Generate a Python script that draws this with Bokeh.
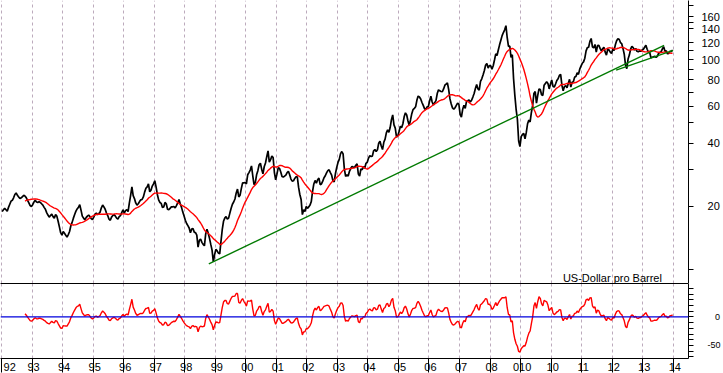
import numpy as np
import pandas as pd
from bokeh.plotting import figure
from bokeh.layouts import column
from bokeh.models import Range1d, FixedTicker, LinearAxis, Grid, Span, Label
from bokeh.embed import file_html
from bokeh.resources import INLINE

# ---------------- data (semi-monthly prices, USD per barrel) ----------------
p1992 = [18.9, 19.3, 19.6, 19.3, 19.0, 19.8, 20.5, 21.2, 21.4, 22.0, 22.8, 23.2, 22.6, 22.2, 21.8, 22.0, 22.3, 22.6, 22.4, 22.0, 21.4, 20.8, 20.2, 20.0]
p1993 = [20.4, 21.0, 21.4, 21.0, 20.9, 21.1, 20.9, 20.6, 20.3, 19.8, 19.4, 18.7, 18.2, 17.8, 18.1, 18.4, 17.9, 17.6, 18.3, 18.0, 17.0, 16.0, 15.0, 14.6]
p1994 = [15.2, 14.9, 14.6, 14.3, 14.7, 15.2, 16.2, 16.8, 17.6, 18.3, 19.0, 19.5, 19.8, 20.4, 19.2, 18.0, 17.6, 17.3, 17.7, 18.0, 18.2, 17.9, 17.5, 17.3]
p1995 = [17.8, 18.4, 18.6, 18.3, 18.5, 18.8, 19.7, 20.3, 19.9, 19.4, 18.6, 18.1, 17.4, 17.2, 17.8, 18.1, 18.3, 18.0, 17.6, 17.4, 17.9, 18.1, 18.7, 19.3]
p1996 = [18.6, 19.1, 19.3, 18.9, 20.8, 22.6, 24.8, 22.5, 21.8, 20.8, 20.3, 20.6, 21.1, 21.5, 21.6, 22.2, 23.4, 24.4, 24.8, 25.6, 23.5, 23.9, 25.0, 25.6]
p1997 = [26.5, 24.8, 22.8, 21.5, 20.9, 20.7, 19.8, 19.9, 20.9, 20.6, 19.4, 19.3, 19.6, 19.9, 19.9, 20.0, 19.7, 20.2, 20.8, 21.6, 20.6, 19.8, 18.8, 18.0]
p1998 = [17.2, 16.6, 16.2, 15.8, 15.0, 15.6, 15.7, 15.1, 15.0, 14.6, 12.8, 13.8, 14.0, 13.5, 13.2, 13.0, 14.8, 15.6, 14.9, 14.1, 13.2, 12.4, 10.9, 11.8]
p1999 = [12.5, 12.3, 12.0, 11.9, 13.6, 15.5, 17.0, 17.6, 17.9, 17.4, 17.6, 18.6, 19.6, 20.5, 21.0, 21.7, 23.2, 24.2, 22.2, 22.6, 24.3, 25.9, 25.9, 26.0]
p2000 = [25.6, 28.3, 29.0, 29.8, 31.2, 28.0, 25.4, 26.0, 28.3, 29.6, 31.6, 32.1, 30.1, 28.6, 30.9, 32.2, 34.5, 36.8, 32.5, 33.4, 34.8, 34.2, 29.0, 26.8]
p2001 = [28.5, 30.5, 30.4, 29.2, 27.8, 27.6, 27.9, 28.2, 29.0, 29.4, 28.3, 27.0, 26.4, 26.5, 27.2, 27.7, 27.7, 24.7, 22.8, 21.6, 18.3, 19.3, 18.9, 20.0]
p2002 = [19.6, 19.9, 20.3, 21.1, 23.6, 25.6, 26.6, 25.8, 26.8, 27.3, 25.4, 25.6, 26.4, 27.4, 28.0, 28.9, 29.6, 29.9, 29.0, 28.2, 26.5, 26.2, 28.7, 30.7]
p2003 = [32.4, 33.5, 35.7, 36.5, 35.6, 30.1, 27.8, 28.3, 27.9, 29.4, 30.3, 31.0, 30.8, 30.7, 31.4, 31.9, 28.5, 27.9, 30.2, 29.9, 31.0, 30.4, 32.1, 32.5]
p2004 = [34.0, 34.9, 34.6, 34.7, 36.8, 37.3, 36.5, 37.2, 40.0, 40.9, 38.8, 37.3, 40.4, 41.8, 44.8, 46.3, 45.1, 47.5, 51.8, 54.5, 48.9, 47.2, 42.8, 43.3]
p2005 = [45.5, 48.2, 47.4, 49.5, 53.4, 55.8, 54.5, 51.0, 48.6, 51.6, 55.3, 57.8, 58.6, 59.6, 64.0, 67.0, 66.4, 64.9, 62.5, 60.5, 58.4, 57.9, 59.5, 59.8]
p2006 = [63.5, 66.9, 62.8, 60.8, 62.4, 63.8, 68.9, 71.8, 71.0, 70.5, 70.3, 72.5, 75.5, 76.5, 77.5, 72.0, 65.0, 61.5, 58.9, 58.0, 59.0, 60.5, 62.0, 61.3]
p2007 = [54.8, 53.3, 58.0, 60.6, 58.6, 63.3, 63.7, 64.3, 62.9, 64.0, 66.3, 68.9, 72.8, 76.2, 72.5, 71.5, 78.8, 81.0, 84.4, 88.5, 94.0, 95.9, 91.2, 93.5]
p2008 = [93.5, 90.0, 93.5, 99.5, 106.5, 104.5, 111.0, 117.5, 123.5, 130.0, 134.5, 138.5, 145.0, 127.0, 115.5, 116.0, 102.5, 105.5, 81.0, 67.5, 58.0, 52.0, 41.0, 38.5]
p2009 = [43.0, 44.0, 44.5, 42.0, 45.0, 49.5, 51.5, 50.5, 56.0, 60.5, 69.0, 70.5, 62.0, 67.5, 72.5, 72.0, 68.0, 67.5, 75.5, 77.0, 78.5, 77.0, 72.5, 76.5]
p2010 = [80.0, 74.5, 74.0, 76.5, 79.5, 81.0, 84.0, 85.0, 75.5, 71.0, 74.5, 75.0, 73.5, 77.0, 80.5, 74.0, 78.0, 78.5, 82.5, 83.0, 86.5, 85.0, 90.0, 93.0]
p2011 = [96.0, 97.5, 101.5, 110.0, 114.0, 114.5, 122.0, 126.0, 115.0, 113.5, 118.0, 108.5, 116.5, 117.0, 113.0, 110.0, 112.5, 114.5, 108.5, 105.0, 112.0, 111.0, 108.5, 107.0]
p2012 = [112.0, 110.5, 117.5, 123.0, 125.5, 125.0, 120.5, 119.0, 113.0, 106.0, 94.0, 90.5, 100.5, 105.0, 112.0, 115.5, 114.0, 111.0, 113.0, 109.5, 109.0, 110.0, 109.5, 111.0]
p2013 = [112.0, 114.5, 117.0, 112.0, 108.5, 108.0, 102.0, 102.5, 103.0, 103.5, 102.5, 103.5, 107.0, 108.0, 109.0, 112.5, 115.0, 109.5, 110.0, 106.5, 107.0, 109.5, 109.5, 111.0]

data_years = list(range(1992, 2014))
yearly = [p1992, p1993, p1994, p1995, p1996, p1997, p1998, p1999, p2000, p2001, p2002,
          p2003, p2004, p2005, p2006, p2007, p2008, p2009, p2010, p2011, p2012, p2013]
periods_per_year = 24
ma_window = 19  # ~200 trading days

# trend lines (decimal year, price)
trend1_x = [1998.79, 2013.70]
trend1_y = [10.66, 116.8]
trend2_x = [2012.13, 2013.997]
trend2_y = [89.0, 110.7]

# axes
year_ticks = list(range(1992, 2015))
year_labels = ["92", "93", "94", "95", "96", "97", "98", "99", "00", "01", "02", "03",
               "04", "05", "06", "07", "08", "010", "10", "11", "12", "13", "14"]
price_ticks = [20, 40, 60, 80, 100, 120, 140, 160]
price_labels = ["20", "40", "60", "80", "100", "120", "140", "160"]
price_minor = [10, 30, 50, 70, 90, 110, 150, 180]
osc_ticks = [-50, 0]
osc_labels = ["-50", "0"]
osc_minor = [-70, -60, -40, -30, -20, -10, 10, 20, 30, 40, 50]
zero_level = 0
unit_text = "US-Dollar pro Barrel"
unit_pos = (2013.63, 9.1)

# ---------------- derived series ----------------
price = np.array([v for yr in yearly for v in yr])
t = np.array([y + (i + 0.5) / periods_per_year for y in data_years for i in range(periods_per_year)])
ma = pd.Series(price).rolling(ma_window).mean().to_numpy()
osc = (price / ma - 1.0) * 100.0
valid = ~np.isnan(ma)

FONT = "Liberation Sans"
X0, X1 = 1991.967, 2014.50
FW = 688
GRID_COLOR = "#bcaabc"

def pad(lbl, n):
    return "\u2007" * (n - len(lbl)) + lbl

# ---------------- top panel ----------------
p1 = figure(frame_width=FW, frame_height=283, x_range=Range1d(X0, X1),
            y_range=Range1d(8.6, 191.0), y_axis_type="log",
            x_axis_location=None, y_axis_location="right",
            toolbar_location=None, output_backend="svg",
            min_border_left=0, min_border_right=0, min_border_top=0, min_border_bottom=0)
p1.outline_line_color = None
p1.grid.visible = False
p1.add_layout(Grid(dimension=0, ticker=FixedTicker(ticks=year_ticks),
                   grid_line_color=GRID_COLOR, grid_line_dash="3 3", grid_line_width=1))

ya = p1.yaxis[0]
ya.ticker = FixedTicker(ticks=price_ticks, minor_ticks=price_minor)
ya.major_label_overrides = {v: pad(l, 3) for v, l in zip(price_ticks, price_labels)}
ya.major_tick_in = 0
ya.major_tick_out = 5
ya.minor_tick_in = 0
ya.minor_tick_out = 5
ya.major_label_standoff = 8
ya.major_label_text_font = FONT
ya.major_label_text_font_size = "11px"
ya.major_label_text_color = "black"
ya.axis_line_color = "black"
ya.major_tick_line_color = "black"
ya.minor_tick_line_color = "black"

p1.line(t, price, line_color="black", line_width=1.7)
p1.line(t[valid], ma[valid], line_color="#ff0000", line_width=1.4)
p1.line(trend1_x, trend1_y, line_color="#007a00", line_width=1.4)
p1.line(trend2_x, trend2_y, line_color="#007a00", line_width=1.4)
p1.add_layout(Label(x=unit_pos[0], y=unit_pos[1], text=unit_text, text_align="right",
                    text_baseline="alphabetic", text_font=FONT, text_font_size="11px",
                    text_color="black"))

# ---------------- bottom panel ----------------
p2 = figure(frame_width=FW, frame_height=75, x_range=p1.x_range,
            y_range=Range1d(-72.9, 58.6), y_axis_location="right", x_axis_location=None,
            toolbar_location=None, output_backend="svg",
            min_border_left=0, min_border_right=0, min_border_top=0, min_border_bottom=0)
p2.outline_line_color = None
p2.grid.visible = False
p2.add_layout(Grid(dimension=0, ticker=FixedTicker(ticks=year_ticks),
                   grid_line_color=GRID_COLOR, grid_line_dash="3 3", grid_line_width=1))

top_line = LinearAxis(ticker=FixedTicker(ticks=[]), major_tick_out=0, major_tick_in=0,
                      minor_tick_out=0, minor_tick_in=0, major_label_standoff=0,
                      major_label_text_font_size="0px", axis_line_color="black")
p2.add_layout(top_line, "above")

xa = LinearAxis(ticker=FixedTicker(ticks=year_ticks))
xa.major_label_overrides = {v: "\u00a0" + l for v, l in zip(year_ticks, year_labels)}
xa.major_tick_in = 0
xa.major_tick_out = 14
xa.minor_tick_out = 0
xa.minor_tick_in = 0
xa.major_label_text_align = "left"
xa.major_label_standoff = -12
xa.major_label_text_font = FONT
xa.major_label_text_font_size = "11px"
xa.major_label_text_color = "black"
xa.axis_line_color = "black"
xa.major_tick_line_color = "black"
p2.add_layout(xa, "below")

oa = p2.yaxis[0]
oa.ticker = FixedTicker(ticks=osc_ticks, minor_ticks=osc_minor)
oa.major_label_overrides = {v: ("\u2007\u2008" + l if len(l) == 1 else l) for v, l in zip(osc_ticks, osc_labels)}
oa.major_tick_in = 0
oa.major_tick_out = 5
oa.minor_tick_in = 0
oa.minor_tick_out = 5
oa.major_label_standoff = 14
oa.major_label_text_font = FONT
oa.major_label_text_font_size = "9px"
oa.major_label_text_color = "black"
oa.axis_line_color = "black"
oa.major_tick_line_color = "black"
oa.minor_tick_line_color = "black"

p2.add_layout(Span(location=zero_level, dimension="width", line_color="#0000dd", line_width=1.4))
p2.line(t[valid], osc[valid], line_color="#ff0000", line_width=1.4)

layout = column(p1, p2, spacing=0)
open("out.html", "w").write(file_html(layout, INLINE))
